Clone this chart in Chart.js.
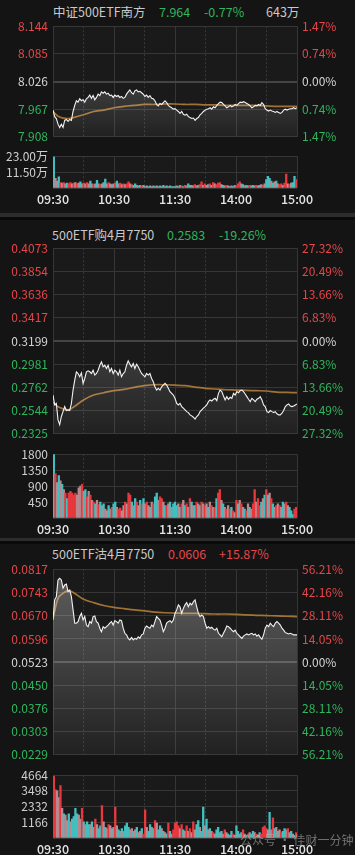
<!DOCTYPE html>
<html><head><meta charset="utf-8">
<script src="https://cdn.jsdelivr.net/npm/chart.js@4.4.1/dist/chart.umd.min.js"></script>
<style>
html,body{margin:0;padding:0;background:#141414;width:355px;height:855px;overflow:hidden;font-family:"Noto Sans CJK SC","Noto Sans",sans-serif;}
canvas{position:absolute;left:0;}
.t{position:absolute;height:18px;line-height:18px;font-size:12.5px;white-space:nowrap;}
.bar{position:absolute;left:0;width:355px;}
</style></head><body>
<div id="root"></div>
<script>
// ---------- shared axis data ----------
const TIME_TICKS = [0, 60, 120, 180, 240];
const TIME_LABELS = ['09:30', '10:30', '11:30', '14:00', '15:00'];
const HALF_HOUR_TICKS = [30, 90, 150, 210];
const AVG_MINUTES = [0,5,10,15,20,30,40,50,60,70,80,90,100,110,120,130,140,150,160,170,180,190,200,210,220,230,240];

// ---------- panel 1 ----------
const P1_NAME = '中证500ETF南方', P1_LAST = '7.964', P1_CHG = '-0.77%', P1_SUM = '643万';
const P1_TICKS = [8.144, 8.085, 8.026, 7.967, 7.908];
const P1_PCT = ['1.47%', '0.74%', '0.00%', '0.74%', '1.47%'];
const P1_PRICE = [
 7.965,7.951,7.947,7.935,7.928,7.935,7.928,7.943,7.945,7.941,
 7.945,7.943,7.962,7.975,7.985,7.982,7.989,7.985,7.987,7.982,
 7.989,7.992,7.997,7.990,7.996,7.987,7.992,7.999,7.996,8.004,
 8.001,8.004,7.999,8.001,7.996,7.997,7.992,7.997,7.994,7.996,
 7.992,7.994,7.990,7.992,7.999,8.004,8.008,8.002,7.999,8.006,
 8.008,8.004,8.005,8.002,7.999,7.994,7.997,7.992,7.996,7.990,
 7.989,7.985,7.977,7.974,7.979,7.977,7.981,7.985,7.981,7.975,
 7.972,7.970,7.967,7.968,7.965,7.962,7.958,7.962,7.956,7.954,
 7.956,7.951,7.949,7.947,7.948,7.943,7.947,7.949,7.955,7.958,
 7.962,7.965,7.967,7.968,7.970,7.967,7.972,7.970,7.975,7.979,
 7.982,7.981,7.977,7.974,7.970,7.972,7.975,7.972,7.974,7.977,
 7.975,7.979,7.982,7.981,7.983,7.981,7.979,7.977,7.974,7.970,
 7.972,7.975,7.974,7.977,7.975,7.981,7.977,7.968,7.965,7.963,
 7.965,7.963,7.962,7.960,7.962,7.960,7.958,7.960,7.965,7.967,
 7.965,7.967,7.968,7.968,7.970,7.968,7.970];
const P1_AVG = [7.962,7.952,7.948,7.947,7.949,7.955,7.962,7.965,7.970,7.973,7.975,7.977,7.977,7.978,7.978,7.977,7.977,7.976,7.976,7.975,7.975,7.975,7.975,7.974,7.973,7.973,7.973];
const P1_VOL_TICKS = [0, 11.5, 23];
const P1_VOL_LABELS = ['', '11.50万', '23.00万'];
const P1_VOL = [
 22.5,7,5,8,4,3.5,4,3,3.5,3, 4,3,3.5,4,3,3.5,4.5,3,3.5,3,
 4,3,5,3,2.5,3,5.5,3,2.5,3, 4,6.5,3,4,3,2.5,3,3.5,5,3,
 3.5,2.5,3,2.5,3,4.5,3,2.5,2,3, 2,1.5,2,1.5,2,1,1.5,1,1.5,1,
 1.5,1,1.5,1,1.5,1,2,1,1.5,1, 1.5,1,1,1,1.5,1,2,1.5,1,2,
 1.5,3,2,2,1.5,2.5,1.5,2,2.5,4.5, 2,3,2,2.5,3,2,4,3,2.5,3.5,
 4,2.5,2,1.5,2,1.5,1,1.5,1,2, 1.5,3,4.5,3,2.5,1.5,2,1.5,2,1.5,
 2,1.5,2,1.5,2,2.5,2,3,6,8.5, 7,5,3.5,4.5,5,3,2.5,3,2,3.5,
 10,3,2.5,3.5,4,8.5,6];
const P1_DIR = 'gnngrnrngr'+'rnrnrngnrn'+'rngnrngnrn'+'ggnrngnrgn'+'rnrnrrnrng'+'ngnrngngng'+'ngngnggngn'+'gnggngnrgr'+'ngngnrngrr'+'nrngrnrnrr'+'rngnrngngn'+'rrrngngnrn'+'gnrngnrngg'+'gngngnrrnr'+'rnrnggr';

// ---------- panel 2 ----------
const P2_NAME = '500ETF购4月7750', P2_LAST = '0.2583', P2_CHG = '-19.26%';
const P2_TICKS = [0.4073, 0.3854, 0.3636, 0.3417, 0.3199, 0.2981, 0.2762, 0.2544, 0.2325];
const P2_PCT = ['27.32%', '20.49%', '13.66%', '6.83%', '0.00%', '6.83%', '13.66%', '20.49%', '27.32%'];
const P2_PRICE = [
 0.2690,0.2597,0.2612,0.2456,0.2410,0.2488,0.2534,0.2581,0.2544,0.2550,
 0.2544,0.2612,0.2737,0.2831,0.2909,0.2893,0.2862,0.2899,0.2800,0.2846,
 0.2909,0.2918,0.2909,0.2893,0.2924,0.2878,0.2893,0.2924,0.2971,0.3002,
 0.2956,0.2971,0.2940,0.2971,0.2909,0.2940,0.2893,0.2924,0.2909,0.2878,
 0.2924,0.2862,0.2893,0.2909,0.2971,0.3012,0.2981,0.2956,0.2987,0.2940,
 0.2981,0.2956,0.2924,0.2893,0.2878,0.2862,0.2893,0.2878,0.2893,0.2846,
 0.2815,0.2768,0.2737,0.2753,0.2737,0.2768,0.2784,0.2800,0.2784,0.2753,
 0.2722,0.2706,0.2690,0.2659,0.2612,0.2597,0.2612,0.2581,0.2566,0.2550,
 0.2534,0.2525,0.2503,0.2494,0.2481,0.2463,0.2488,0.2503,0.2534,0.2550,
 0.2566,0.2581,0.2597,0.2628,0.2644,0.2634,0.2650,0.2659,0.2637,0.2706,
 0.2737,0.2722,0.2681,0.2644,0.2675,0.2650,0.2669,0.2659,0.2706,0.2690,
 0.2722,0.2712,0.2731,0.2737,0.2722,0.2700,0.2675,0.2650,0.2628,0.2659,
 0.2644,0.2628,0.2650,0.2659,0.2675,0.2644,0.2597,0.2581,0.2534,0.2525,
 0.2544,0.2534,0.2525,0.2534,0.2513,0.2503,0.2503,0.2519,0.2544,0.2581,
 0.2597,0.2606,0.2587,0.2581,0.2587,0.2597,0.2606];
const P2_AVG = [0.2620,0.2580,0.2560,0.2550,0.2575,0.2644,0.2690,0.2712,0.2731,0.2743,0.2762,0.2778,0.2787,0.2787,0.2784,0.2778,0.2765,0.2753,0.2747,0.2740,0.2737,0.2734,0.2731,0.2728,0.2718,0.2715,0.2712];
const P2_VOL_TICKS = [0, 450, 900, 1350, 1800];
const P2_VOL_LABELS = ['', '450', '900', '1350', '1800'];
const P2_VOL = [
 1800,1250,1000,1200,1050,950,800,700,550,700, 750,700,650,700,650,850,900,950,750,800,
 600,750,650,500,450,400,500,380,450,350, 400,250,200,350,250,300,400,450,300,250,
 280,200,350,450,400,700,650,450,350,550, 450,350,500,400,550,400,450,350,300,450,
 400,600,700,500,600,550,450,350,350,400, 450,300,400,450,350,400,300,400,500,350,
 400,300,550,450,350,350,450,400,350,450, 400,350,400,300,450,350,300,300,550,700,
 800,500,400,300,250,350,250,300,200,150, 500,400,500,400,300,250,200,400,300,250,
 400,800,450,550,350,450,550,650,800,650, 700,550,400,300,350,400,350,300,450,400,
 450,350,300,200,100,250,300];
const P2_DIR = 'grngngnrgr'+'rrrrnnnrng'+'rnrnrgnrgn'+'gnngnrggnr'+'rnnrnrrgng'+'rngrgnrngn'+'rggnrrngrn'+'gngggngrng'+'rnrgngrngr'+'nrngnrnrgr'+'rngnrnrgrn'+'rgnrngrngn'+'rrnrrgngrg'+'nrgnrnrngn'+'rngggrr';

// ---------- panel 3 ----------
const P3_NAME = '500ETF沽4月7750', P3_LAST = '0.0606', P3_CHG = '+15.87%';
const P3_TICKS = [0.0817, 0.0743, 0.0670, 0.0596, 0.0523, 0.0450, 0.0376, 0.0303, 0.0229];
const P3_PCT = ['56.21%', '42.16%', '28.11%', '14.05%', '0.00%', '14.05%', '28.11%', '42.16%', '56.21%'];
const P3_PRICE = [
 0.0656,0.0720,0.0730,0.0783,0.0788,0.0783,0.0757,0.0767,0.0770,0.0746,
 0.0751,0.0730,0.0688,0.0646,0.0646,0.0651,0.0667,0.0677,0.0656,0.0667,
 0.0640,0.0635,0.0651,0.0646,0.0667,0.0669,0.0651,0.0646,0.0630,0.0619,
 0.0635,0.0630,0.0635,0.0640,0.0646,0.0651,0.0640,0.0654,0.0651,0.0646,
 0.0656,0.0654,0.0630,0.0614,0.0609,0.0598,0.0593,0.0601,0.0593,0.0598,
 0.0595,0.0603,0.0598,0.0609,0.0612,0.0630,0.0637,0.0633,0.0630,0.0640,
 0.0635,0.0651,0.0667,0.0661,0.0656,0.0640,0.0619,0.0630,0.0646,0.0651,
 0.0654,0.0648,0.0656,0.0677,0.0688,0.0704,0.0698,0.0677,0.0693,0.0704,
 0.0711,0.0698,0.0709,0.0704,0.0714,0.0720,0.0698,0.0677,0.0667,0.0672,
 0.0667,0.0646,0.0630,0.0635,0.0630,0.0633,0.0627,0.0624,0.0630,0.0614,
 0.0609,0.0603,0.0614,0.0624,0.0637,0.0635,0.0630,0.0624,0.0619,0.0624,
 0.0614,0.0609,0.0603,0.0598,0.0605,0.0609,0.0612,0.0609,0.0612,0.0614,
 0.0609,0.0612,0.0605,0.0609,0.0601,0.0595,0.0609,0.0630,0.0640,0.0635,
 0.0646,0.0640,0.0635,0.0646,0.0651,0.0646,0.0640,0.0630,0.0624,0.0616,
 0.0614,0.0612,0.0614,0.0612,0.0609,0.0609,0.0609];
const P3_AVG = [0.0661,0.0725,0.0741,0.0749,0.0743,0.0722,0.0711,0.0702,0.0696,0.0692,0.0688,0.0685,0.0681,0.0679,0.0678,0.0677,0.0677,0.0676,0.0675,0.0675,0.0674,0.0672,0.0671,0.0670,0.0669,0.0668,0.0667];
const P3_VOL_TICKS = [0, 1166, 2332, 3498, 4664];
const P3_VOL_LABELS = ['', '1166', '2332', '3498', '4664'];
const P3_VOL = [
 4600,3600,3500,3000,3900,2200,1800,1700,1300,1800, 1200,1400,1600,2200,1800,1700,1400,2200,1200,1000,
 1200,1000,1000,1200,800,1400,1000,700,900,2400, 1200,800,700,1000,900,700,800,2300,900,600,
 500,700,500,900,1100,800,600,700,500,600, 800,400,500,700,300,2100,800,500,1000,800,
 700,1300,1100,600,900,700,500,400,300,1100, 500,300,600,1100,1200,900,700,1000,600,500,
 900,500,700,400,1200,600,1000,1300,800,500, 2300,900,1400,600,700,500,400,300,600,800,
 400,500,300,600,400,300,200,500,300,200, 900,500,300,400,600,300,200,300,400,300,
 500,400,300,200,400,300,800,900,700,600, 1900,600,1500,700,800,500,600,400,500,700,
 600,700,400,500,300,200,400];
const P3_DIR = 'rrnnrngnng'+'nggggnnrgn'+'ggngnrnggr'+'ngnrngnrng'+'ngngggnngn'+'gnngrrnggn'+'grnggngngr'+'gnrrrrnrgn'+'rnrnrnggng'+'gngngnrngg'+'ngnrngngrn'+'ggngrngrng'+'gnrngrrrrn'+'gnrgngnrgg'+'nrngngr';

// ---------- styling ----------
const RED = '#e5464a', GREEN = '#2fb55c', WHITE = '#d4d4d4';
const GRID = '#363636';
const BAR_COLORS = { r: '#e8383d', g: '#40c0c0', n: '#b8898f' };
Chart.defaults.font.family = '"Noto Sans CJK SC","Noto Sans",sans-serif';
Chart.defaults.font.size = 12;

function addCanvas(top, h) {
  const c = document.createElement('canvas');
  c.width = 355; c.height = h; c.style.top = top + 'px';
  c.style.width = '355px'; c.style.height = h + 'px';
  document.body.appendChild(c);
  return c;
}
function addText(txt, x, yc, color, extra) {
  const d = document.createElement('div');
  d.className = 't'; d.textContent = txt;
  d.style.left = x + 'px'; d.style.top = (yc - 9) + 'px'; d.style.color = color;
  if (extra) Object.assign(d.style, extra);
  document.body.appendChild(d);
}
function addBar(top, h, color) {
  const d = document.createElement('div');
  d.className = 'bar'; d.style.top = top + 'px'; d.style.height = h + 'px'; d.style.background = color;
  document.body.appendChild(d);
}

const plotBg = {
  id: 'plotBg',
  beforeDraw(chart) {
    const a = chart.chartArea, c = chart.ctx;
    c.save(); c.fillStyle = '#1a1a1a';
    c.fillRect(a.left, a.top, a.right - a.left, a.bottom - a.top);
    c.restore();
  }
};

function xScales(showLabels, h) {
  return {
    x: {
      type: 'linear', min: 0, max: 240, offset: false, position: 'bottom',
      afterBuildTicks: s => { s.ticks = TIME_TICKS.map(v => ({ value: v })); },
      afterFit: s => { s.height = h; },
      grid: { color: GRID, lineWidth: 1, drawTicks: false, offset: false },
      border: { display: false },
      ticks: {
        display: showLabels, autoSkip: false, maxRotation: 0, padding: 4,
        color: '#e4e4e4', font: { size: 12.5, weight: '500' },
        callback: v => TIME_LABELS[TIME_TICKS.indexOf(v)]
      }
    },
    xd: {
      type: 'linear', min: 0, max: 240, offset: false, position: 'bottom',
      afterBuildTicks: s => { s.ticks = HALF_HOUR_TICKS.map(v => ({ value: v })); },
      afterFit: s => { s.height = 0; },
      grid: { color: '#3a3a3a', lineWidth: 1, drawTicks: false, offset: false },
      border: { display: false, dash: [2, 2] },
      ticks: { display: false }
    }
  };
}

function priceChart(top, h, ticks, pct, price, avg, decimals) {
  const mid = Math.floor(ticks.length / 2);
  const col = ctx => { const i = ticks.indexOf(ctx.tick.value); return i < mid ? RED : (i === mid ? WHITE : GREEN); };
  const lo = ticks[ticks.length - 1], hi = ticks[0];
  const c = addCanvas(top, h);
  new Chart(c, {
    type: 'line',
    data: {
      datasets: [
        {
          data: price.map((v, i) => ({ x: i * 240 / (price.length - 1), y: v })),
          borderColor: '#f2f2f2', borderWidth: 1.1, pointRadius: 0, tension: 0,
          fill: 'start', xAxisID: 'x', yAxisID: 'y',
          backgroundColor: ctx => {
            const a = ctx.chart.chartArea;
            if (!a) return 'rgba(255,255,255,0.1)';
            const g = ctx.chart.ctx.createLinearGradient(0, a.top, 0, a.bottom);
            g.addColorStop(0, 'rgba(255,255,255,0.30)');
            g.addColorStop(1, 'rgba(255,255,255,0.03)');
            return g;
          }
        },
        {
          data: AVG_MINUTES.map((m, i) => ({ x: m, y: avg[i] })),
          borderColor: 'rgba(176,124,56,0.9)', borderWidth: 1.7, pointRadius: 0,
          tension: 0.3, fill: false, xAxisID: 'x', yAxisID: 'y'
        }
      ]
    },
    options: {
      responsive: false, animation: false, events: [],
      layout: { padding: { top: 12, bottom: 12, left: 0, right: 0 } },
      plugins: { legend: { display: false }, tooltip: { enabled: false } },
      scales: Object.assign(xScales(false, 0), {
        y: {
          type: 'linear', position: 'left', min: lo, max: hi,
          afterBuildTicks: s => { s.ticks = ticks.map(v => ({ value: v })); },
          afterFit: s => { s.width = 53; },
          grid: {
            drawTicks: false,
            color: ctx => ticks.indexOf(ctx.tick.value) === mid ? '#444444' : GRID,
            lineWidth: ctx => ticks.indexOf(ctx.tick.value) === mid ? 2 : 1
          },
          border: { display: false },
          ticks: { autoSkip: false, padding: 5, color: col, font: { size: 12 }, callback: v => v.toFixed(decimals) }
        },
        y2: {
          type: 'linear', position: 'right', min: lo, max: hi,
          afterBuildTicks: s => { s.ticks = ticks.map(v => ({ value: v })); },
          afterFit: s => { s.width = 58; },
          grid: { display: false, drawTicks: false },
          border: { display: false },
          ticks: { autoSkip: false, padding: 5, color: col, font: { size: 12 }, callback: v => pct[ticks.indexOf(v)] }
        }
      })
    },
    plugins: [plotBg]
  });
}

function volumeChart(top, h, axisH, vol, dir, vTicks, vLabels) {
  const c = addCanvas(top, h);
  new Chart(c, {
    type: 'bar',
    data: {
      datasets: [{
        data: vol.map((v, i) => ({ x: (i + 0.5) * 240 / vol.length, y: v })),
        backgroundColor: vol.map((v, i) => BAR_COLORS[dir[i]]),
        barPercentage: 1, categoryPercentage: 1, borderWidth: 0,
        xAxisID: 'x', yAxisID: 'y'
      }]
    },
    options: {
      responsive: false, animation: false, events: [],
      layout: { padding: { top: 8, bottom: 0, left: 0, right: 58 } },
      plugins: { legend: { display: false }, tooltip: { enabled: false } },
      scales: Object.assign(xScales(true, axisH), {
        y: {
          type: 'linear', position: 'left', min: 0, max: vTicks[vTicks.length - 1],
          afterBuildTicks: s => { s.ticks = vTicks.map(v => ({ value: v })); },
          afterFit: s => { s.width = 53; },
          grid: { drawTicks: false, color: GRID },
          border: { display: false },
          ticks: { autoSkip: false, padding: 5, color: '#cfcfcf', font: { size: 12 }, callback: v => vLabels[vTicks.indexOf(v)] }
        }
      })
    },
    plugins: [plotBg]
  });
}

// separators
addBar(213, 4, '#2c2c2c'); addBar(217, 3, '#0a0a0a');
addBar(538, 3, '#2c2c2c'); addBar(541, 3, '#0a0a0a');

// titles
addText(P1_NAME, 53, 12, '#c9c9c9');
addText(P1_LAST, 159, 12, GREEN);
addText(P1_CHG, 204, 12, GREEN);
addText(P1_SUM, 266, 12, '#c9c9c9');
addText(P2_NAME, 52, 235, '#c9c9c9');
addText(P2_LAST, 167, 235, GREEN);
addText(P2_CHG, 219, 235, GREEN);
addText(P3_NAME, 52, 554, '#c9c9c9');
addText(P3_LAST, 168, 554, RED);
addText(P3_CHG, 219, 554, RED);

// charts
priceChart(14, 135, P1_TICKS, P1_PCT, P1_PRICE, P1_AVG, 3);
volumeChart(144, 68, 24, P1_VOL, P1_DIR, P1_VOL_TICKS, P1_VOL_LABELS);
priceChart(236, 210, P2_TICKS, P2_PCT, P2_PRICE, P2_AVG, 4);
volumeChart(442, 100, 24, P2_VOL, P2_DIR, P2_VOL_TICKS, P2_VOL_LABELS);
priceChart(557, 210, P3_TICKS, P3_PCT, P3_PRICE, P3_AVG, 4);
volumeChart(763, 99, 24, P3_VOL, P3_DIR, P3_VOL_TICKS, P3_VOL_LABELS);

// watermark
addText('公众号 · 佳财一分钟', 240, 840, 'rgba(190,190,190,0.55)', { fontSize: '12px' });
</script>
</body></html>
